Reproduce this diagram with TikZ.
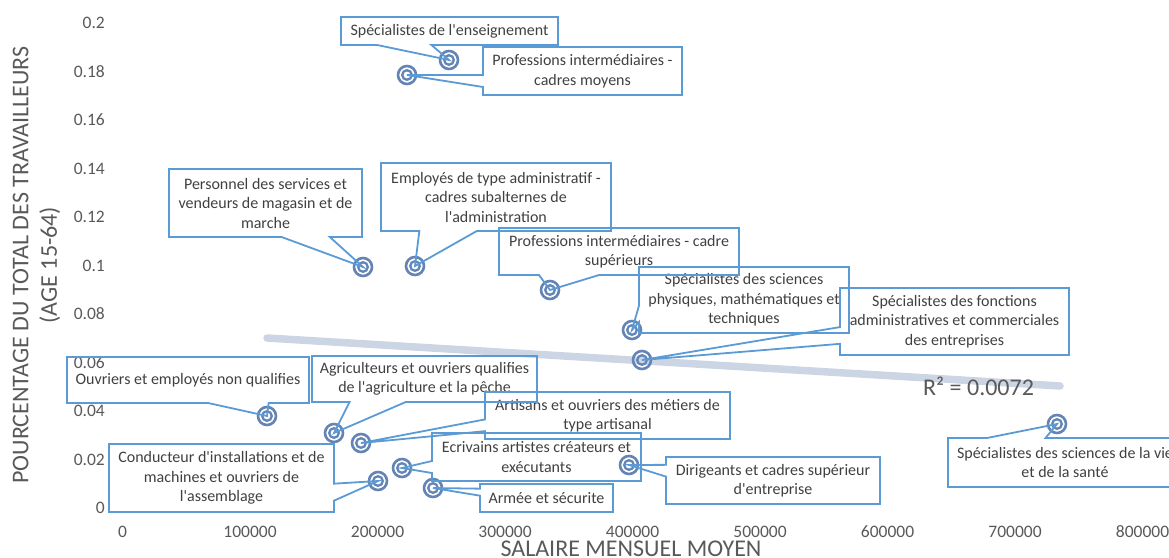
\documentclass[tikz,border=0pt]{standalone}
\usepackage{fontspec}
\setmainfont{Carlito}
\usetikzlibrary{calc}
\definecolor{callblue}{RGB}{91,155,213}
\definecolor{markblue}{RGB}{100,132,182}
\definecolor{trendgray}{RGB}{203,213,227}
\definecolor{labelgray}{RGB}{89,89,89}
\definecolor{textgray}{RGB}{64,64,64}

\begin{document}
\begin{tikzpicture}[
  x=1pt, y=-1pt,
  tick/.style={text=labelgray, font=\fontsize{17.5}{21}\selectfont, inner sep=0pt},
  title/.style={text=labelgray, font=\fontsize{24}{28.5}\selectfont, inner sep=0pt, align=center},
  callbox/.style={inner sep=0pt, outer sep=0pt},
  ctext/.style={text=textgray, font=\fontsize{16}{19.5}\selectfont, align=center, inner sep=0pt},
  callout/.style={draw=callblue, line width=1.8pt, line join=miter},
  dot/.style={circle, draw=markblue, line width=2.6pt, minimum size=18pt, inner sep=0pt,
    path picture={\draw[markblue, line width=2.3pt] (path picture bounding box.center) circle (4.8pt);}},
  trend/.style={draw=trendgray, line width=7.5pt, line cap=round}
]
\useasboundingbox (0,0) rectangle (1169,557);

% axis labels
\foreach \t [count=\i from 0] in {0,0.02,0.04,0.06,0.08,0.1,0.12,0.14,0.16,0.18,0.2}
  \node[tick, anchor=east] at (105,508-48.5*\i) {\t};
\foreach \t [count=\i from 0] in {0,100000,200000,300000,400000,500000,600000,700000,800000}
  \node[tick] at (122.5+127.5*\i,532) {\t};
\node[title, rotate=90] (ytitle) at (36.5,265) {POURCENTAGE DU TOTAL DES TRAVAILLEURS\\(AGE 15-64)};
\node[title, anchor=base] (xtitle) at (631,556.5) {SALAIRE MENSUEL MOYEN};

% trend line
\coordinate (t0) at (267,338);
\coordinate (t1) at (1060,386);
\draw[trend] (t0) -- (t1);
\node[title, anchor=base west] (rsq) at (923,395) {R² = 0.0072};

% data points
\node[dot] (d-ens) at (449,60) {};
\node[dot] (d-pim) at (407,75) {};
\node[dot] (d-pers) at (363,267) {};
\node[dot] (d-empl) at (415,266) {};
\node[dot] (d-pics) at (550,290) {};
\node[dot] (d-phys) at (632,330) {};
\node[dot] (d-fonc) at (642,360) {};
\node[dot] (d-ouvr) at (267,416) {};
\node[dot] (d-agri) at (334,433) {};
\node[dot] (d-arti) at (361,443) {};
\node[dot] (d-cond) at (378,481) {};
\node[dot] (d-ecri) at (402,468) {};
\node[dot] (d-arme) at (433,488) {};
\node[dot] (d-diri) at (629,465) {};
\node[dot] (d-vie) at (1057,424) {};

% callouts
\node[callbox, minimum width=217pt, minimum height=28pt, label={[ctext]center:{Spécialistes de l\textquotesingle enseignement}}] (ens) at (449.5,31) {};
\node[callbox, minimum width=199pt, minimum height=48pt, label={[ctext]center:{Professions intermédiaires -\\cadres moyens}}] (pim) at (582.5,71) {};
\node[callbox, minimum width=193pt, minimum height=68pt, label={[ctext]center:{Personnel des services et\\vendeurs de magasin et de\\marche}}] (pers) at (265.5,203) {};
\node[callbox, minimum width=230pt, minimum height=68pt, label={[ctext]center:{Employés de type administratif -\\cadres subalternes de\\l\textquotesingle administration}}] (empl) at (496,197) {};
\node[callbox, minimum width=240pt, minimum height=47pt, label={[ctext]center:{Professions intermédiaires - cadre\\supérieurs}}] (pics) at (619,251.5) {};
\node[callbox, minimum width=210pt, minimum height=66pt, label={[ctext]center:{Spécialistes des sciences\\physiques, mathématiques et\\techniques}}] (phys) at (744,300) {};
\node[callbox, minimum width=229pt, minimum height=67pt, label={[ctext]center:{Spécialistes des fonctions\\administratives et commerciales\\des entreprises}}] (fonc) at (954.5,321.5) {};
\node[callbox, minimum width=242pt, minimum height=46pt, label={[ctext]center:{Ouvriers et employés non qualifies}}] (ouvr) at (188,380) {};
\node[callbox, minimum width=225pt, minimum height=46pt, label={[ctext]center:{Agriculteurs et ouvriers qualifies\\de l\textquotesingle agriculture et la pêche}}] (agri) at (424.5,379) {};
\node[callbox, minimum width=245pt, minimum height=47pt, label={[ctext]center:{Artisans et ouvriers des métiers de\\type artisanal}}] (arti) at (607.5,415.5) {};
\node[callbox, minimum width=225pt, minimum height=68pt, label={[ctext]center:{Conducteur d\textquotesingle installations et de\\machines et ouvriers de\\l\textquotesingle assemblage}}] (cond) at (221.5,478) {};
\node[callbox, minimum width=209pt, minimum height=48pt, label={[ctext]center:{Ecrivains artistes créateurs et\\exécutants}}] (ecri) at (536.5,457) {};
\node[callbox, minimum width=133pt, minimum height=28pt, label={[ctext]center:{Armée et sécurite}}] (arme) at (546.5,498) {};
\node[callbox, minimum width=214pt, minimum height=47pt, label={[ctext]center:{Dirigeants et cadres supérieur\\d\textquotesingle entreprise}}] (diri) at (773,480.5) {};
\node[callbox, minimum width=234pt, minimum height=49pt, label={[ctext]center:{Spécialistes des sciences de la vie\\et de la santé}}] (vie) at (1065,462.5) {};

\draw[callout] (ens.south west) -- ($(ens.south west)!.1667!(ens.south east)$) -- (d-ens.center) -- ($(ens.south west)!.4167!(ens.south east)$) -- (ens.south east) -- (ens.north east) -- (ens.north west) -- cycle;
\draw[callout] (pim.north west) -- ($(pim.north west)!.5833!(pim.south west)$) -- (d-pim.center) -- ($(pim.north west)!.8333!(pim.south west)$) -- (pim.south west) -- (pim.south east) -- (pim.north east) -- cycle;
\draw[callout] (pers.south west) -- ($(pers.south west)!.5833!(pers.south east)$) -- (d-pers.center) -- ($(pers.south west)!.8333!(pers.south east)$) -- (pers.south east) -- (pers.north east) -- (pers.north west) -- cycle;
\draw[callout] (empl.south west) -- ($(empl.south west)!.1667!(empl.south east)$) -- (d-empl.center) -- ($(empl.south west)!.4167!(empl.south east)$) -- (empl.south east) -- (empl.north east) -- (empl.north west) -- cycle;
\draw[callout] (pics.south west) -- ($(pics.south west)!.1667!(pics.south east)$) -- (d-pics.center) -- ($(pics.south west)!.4167!(pics.south east)$) -- (pics.south east) -- (pics.north east) -- (pics.north west) -- cycle;
\draw[callout] (phys.north west) -- ($(phys.north west)!.5833!(phys.south west)$) -- (d-phys.center) -- ($(phys.north west)!.8333!(phys.south west)$) -- (phys.south west) -- (phys.south east) -- (phys.north east) -- cycle;
\draw[callout] (fonc.north west) -- ($(fonc.north west)!.5833!(fonc.south west)$) -- (d-fonc.center) -- ($(fonc.north west)!.8333!(fonc.south west)$) -- (fonc.south west) -- (fonc.south east) -- (fonc.north east) -- cycle;
\draw[callout] (ouvr.south west) -- ($(ouvr.south west)!.5833!(ouvr.south east)$) -- (d-ouvr.center) -- ($(ouvr.south west)!.8333!(ouvr.south east)$) -- (ouvr.south east) -- (ouvr.north east) -- (ouvr.north west) -- cycle;
\draw[callout] (agri.south west) -- ($(agri.south west)!.1667!(agri.south east)$) -- (d-agri.center) -- ($(agri.south west)!.4167!(agri.south east)$) -- (agri.south east) -- (agri.north east) -- (agri.north west) -- cycle;
\draw[callout] (arti.north west) -- ($(arti.north west)!.5833!(arti.south west)$) -- (d-arti.center) -- ($(arti.north west)!.8333!(arti.south west)$) -- (arti.south west) -- (arti.south east) -- (arti.north east) -- cycle;
\draw[callout] (cond.north east) -- ($(cond.north east)!.5833!(cond.south east)$) -- (d-cond.center) -- ($(cond.north east)!.8333!(cond.south east)$) -- (cond.south east) -- (cond.south west) -- (cond.north west) -- cycle;
\draw[callout] (ecri.north west) -- ($(ecri.north west)!.5833!(ecri.south west)$) -- (d-ecri.center) -- ($(ecri.north west)!.8333!(ecri.south west)$) -- (ecri.south west) -- (ecri.south east) -- (ecri.north east) -- cycle;
\draw[callout] (arme.north west) -- ($(arme.north west)!.1667!(arme.south west)$) -- (d-arme.center) -- ($(arme.north west)!.4167!(arme.south west)$) -- (arme.south west) -- (arme.south east) -- (arme.north east) -- cycle;
\draw[callout] (diri.north west) -- ($(diri.north west)!.1667!(diri.south west)$) -- (d-diri.center) -- ($(diri.north west)!.4167!(diri.south west)$) -- (diri.south west) -- (diri.south east) -- (diri.north east) -- cycle;
\draw[callout] (vie.north west) -- ($(vie.north west)!.1667!(vie.north east)$) -- (d-vie.center) -- ($(vie.north west)!.4167!(vie.north east)$) -- (vie.north east) -- (vie.south east) -- (vie.south west) -- cycle;
\end{tikzpicture}
\end{document}
